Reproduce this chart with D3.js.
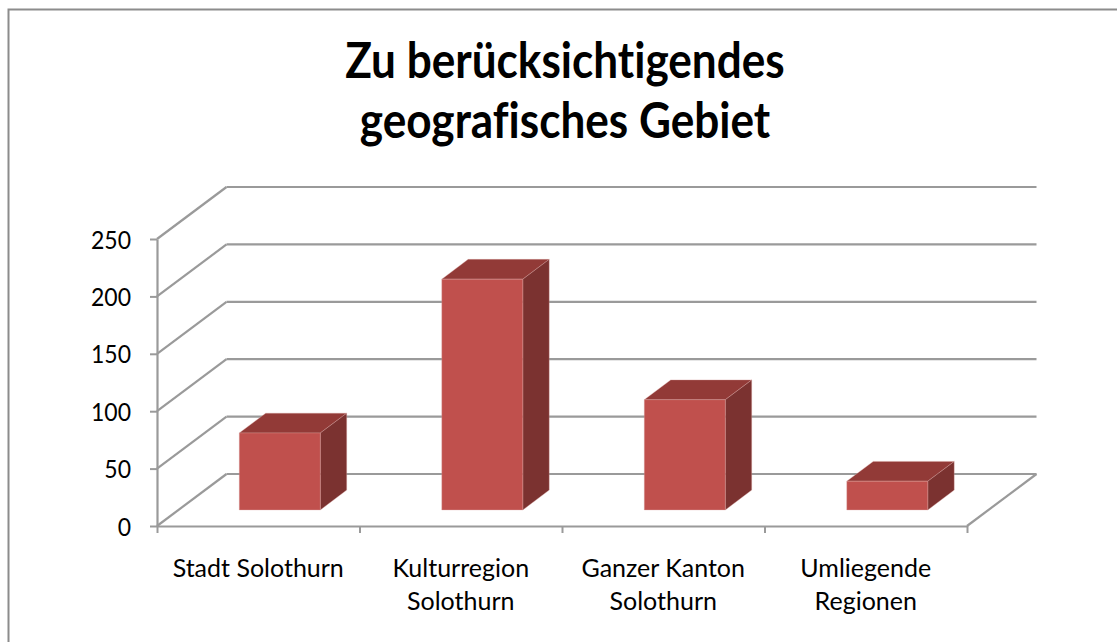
<!DOCTYPE html>
<html>
<head>
<meta charset="utf-8">
<script src="https://cdn.jsdelivr.net/npm/d3@7/dist/d3.min.js"></script>
<style>
  html, body { margin: 0; padding: 0; background: #fff; }
  svg { display: block; }
  text { font-variant-ligatures: none; font-feature-settings: "liga" 0, "clig" 0; }
</style>
</head>
<body>
<svg id="chart" width="1117" height="642"></svg>
<script>
// ---- data ----
const titleLines = ["Zu berücksichtigendes", "geografisches Gebiet"];
const categories = ["Stadt Solothurn", "Kulturregion Solothurn", "Ganzer Kanton Solothurn", "Umliegende Regionen"];
const categoryLines = [["Stadt Solothurn"], ["Kulturregion", "Solothurn"], ["Ganzer Kanton", "Solothurn"], ["Umliegende", "Regionen"]];
const values = [67, 201, 96, 25];
const yTicks = [0, 50, 100, 150, 200, 250];

// ---- layout ----
const W = 1117, H = 642;
const svg = d3.select("#chart");
const FONT = "Lato, 'Open Sans', sans-serif";
const DX = 69.5, DY = -52;           // depth offset (z = 0 front, z = 1 back)
const BAR_Z0 = 0.31, BAR_Z1 = 0.69;  // bar depth span
const BAR_W = 0.4;                   // bar width fraction of band
const GRID = "#9a9a9a";

const x = d3.scaleBand().domain(categories).range([157, 967]).padding(0);
const y = d3.scaleLinear().domain([0, 250]).range([526, 239]);
const xEdge = d3.scaleLinear().domain([0, categories.length]).range([157, 967]);

const P = (sx, sy, z) => [sx + z * DX, sy + z * DY];

function squeeze(sel, f) {
  sel.each(function () {
    const L = this.getComputedTextLength();
    d3.select(this).attr("textLength", L * f).attr("lengthAdjust", "spacingAndGlyphs");
  });
}

// border
svg.append("rect").attr("x", 8.5).attr("y", 9.5).attr("width", W + 10).attr("height", H + 10)
  .attr("fill", "#fff").attr("stroke", "#8c8c8c").attr("stroke-width", 2);

// title
const title = svg.append("text").attr("x", 565).attr("text-anchor", "middle")
  .style("font-family", FONT).style("font-weight", "bold").style("font-size", "49px").attr("fill", "#000");
titleLines.forEach((t, i) => {
  title.append("tspan").attr("x", 565).attr("y", 78 + i * 60).text(t);
});
squeeze(title.selectAll("tspan"), 0.9);

const g = svg.append("g");

// back wall gridlines
g.selectAll("line.back").data(yTicks).join("line").attr("class", "back")
  .attr("x1", d => P(157, y(d), 1)[0]).attr("y1", d => P(157, y(d), 1)[1])
  .attr("x2", d => P(967, y(d), 1)[0]).attr("y2", d => P(967, y(d), 1)[1])
  .attr("stroke", GRID).attr("stroke-width", 2.2);

// left wall diagonals
g.selectAll("line.side").data(yTicks).join("line").attr("class", "side")
  .attr("x1", 157).attr("y1", d => y(d))
  .attr("x2", d => P(157, y(d), 1)[0]).attr("y2", d => P(157, y(d), 1)[1])
  .attr("stroke", GRID).attr("stroke-width", 2.2);

// floor right edge
g.append("line")
  .attr("x1", 967).attr("y1", y(0))
  .attr("x2", P(967, y(0), 1)[0]).attr("y2", P(967, y(0), 1)[1])
  .attr("stroke", GRID).attr("stroke-width", 2.2);

// y axis
const yAxis = svg.append("g").attr("transform", "translate(157,0)")
  .call(d3.axisLeft(y).tickValues(yTicks).tickSize(7).tickPadding(19).tickSizeOuter(0));
yAxis.select(".domain").attr("stroke", GRID).attr("stroke-width", 2.2);
yAxis.selectAll(".tick line").attr("stroke", GRID).attr("stroke-width", 2);
yAxis.selectAll(".tick text").style("font-family", FONT).style("font-size", "25px").attr("fill", "#000").attr("dy", "0.36em");
squeeze(yAxis.selectAll(".tick text"), 0.92);

// x axis (category boundaries)
const xAxis = svg.append("g").attr("transform", `translate(0,${y(0)})`)
  .call(d3.axisBottom(xEdge).tickValues(d3.range(categories.length + 1)).tickSize(7).tickFormat("").tickSizeOuter(0));
xAxis.select(".domain").attr("stroke", GRID).attr("stroke-width", 2.2);
xAxis.selectAll(".tick line").attr("stroke", GRID).attr("stroke-width", 2);

// bars
const bars = svg.append("g").selectAll("g.bar").data(values.map((v, i) => ({ v, c: categories[i] }))).join("g");
function barGeom(d) {
  const cx = x(d.c) + x.bandwidth() / 2;
  const x0 = cx - x.bandwidth() * BAR_W / 2, x1 = cx + x.bandwidth() * BAR_W / 2;
  const yb = y(0), yt = y(d.v);
  return { x0, x1, yb, yt };
}
const pts = a => a.map(p => p.join(",")).join(" ");
bars.append("polygon").attr("points", d => { // top
  const b = barGeom(d);
  return pts([P(b.x0, b.yt, BAR_Z0), P(b.x1, b.yt, BAR_Z0), P(b.x1, b.yt, BAR_Z1), P(b.x0, b.yt, BAR_Z1)]);
}).attr("fill", "#923a37");
bars.append("polygon").attr("points", d => { // side
  const b = barGeom(d);
  return pts([P(b.x1, b.yb, BAR_Z0), P(b.x1, b.yt, BAR_Z0), P(b.x1, b.yt, BAR_Z1), P(b.x1, b.yb, BAR_Z1)]);
}).attr("fill", "#7b3230");
bars.append("polygon").attr("points", d => { // front
  const b = barGeom(d);
  return pts([P(b.x0, b.yb, BAR_Z0), P(b.x1, b.yb, BAR_Z0), P(b.x1, b.yt, BAR_Z0), P(b.x0, b.yt, BAR_Z0)]);
}).attr("fill", "#c0504d");
bars.selectAll("polygon").attr("stroke", "#d9a09e").attr("stroke-width", 0.6).attr("stroke-opacity", 0.6);

// category labels
const labels = svg.append("g").selectAll("text").data(categories).join("text")
  .attr("text-anchor", "middle").style("font-family", FONT).style("font-size", "25px").attr("fill", "#000");
labels.each(function (c, i) {
  const cx = x(c) + x.bandwidth() / 2;
  categoryLines[i].forEach((t, j) => {
    d3.select(this).append("tspan").attr("x", cx).attr("y", 577 + j * 33).text(t);
  });
});
</script>
</body>
</html>
